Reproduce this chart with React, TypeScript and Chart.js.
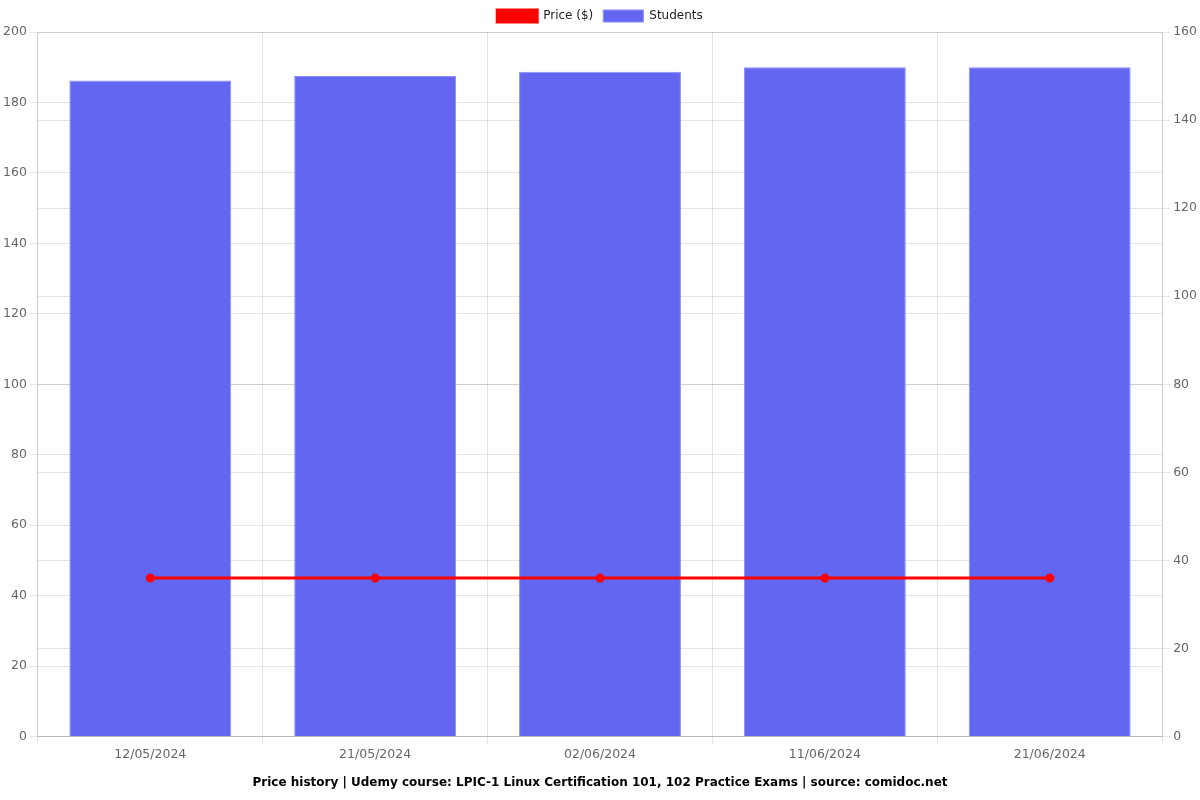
import React, { useEffect, useRef } from "react";
import { Chart, registerables } from "chart.js";

Chart.register(...registerables);

const labels = ["12/05/2024", "21/05/2024", "02/06/2024", "11/06/2024", "21/06/2024"];
const priceValues = [44.99, 44.99, 44.99, 44.99, 44.99];
const studentValues = [149, 150, 151, 152, 152];
const titleText = "Price history | Udemy course: LPIC-1 Linux Certification 101, 102 Practice Exams | source: comidoc.net";

export default function App() {
  const ref = useRef<HTMLCanvasElement>(null);
  useEffect(() => {
    Chart.defaults.font.family = "'DejaVu Sans', sans-serif";
    Chart.defaults.font.size = 12;
    Chart.defaults.color = "#666";
    const tickFont = { size: 12.5 };
    const chart = new Chart(ref.current!, {
      type: "bar",
      data: {
        labels,
        datasets: [
          {
            type: "line",
            label: "Price ($)",
            data: priceValues,
            borderColor: "#ff0000",
            backgroundColor: "#ff0000",
            borderWidth: 3,
            pointRadius: 3,
            yAxisID: "y",
            order: 0,
          },
          {
            type: "bar",
            label: "Students",
            data: studentValues,
            backgroundColor: "#6366f1",
            borderColor: "#8b8df5",
            borderWidth: 1,
            yAxisID: "y1",
            order: 1,
          },
        ],
      },
      options: {
        responsive: false,
        animation: false,
        plugins: {
          legend: { position: "top", labels: { color: "#222", padding: 10 } },
          title: {
            display: true,
            text: titleText,
            position: "bottom",
            color: "#000",
            font: { weight: "bold", size: 12 },
          },
        },
        scales: {
          x: { grid: { display: true }, ticks: { font: tickFont } },
          y: { position: "left", min: 0, max: 200, ticks: { stepSize: 20, font: tickFont } },
          y1: { position: "right", min: 0, max: 160, ticks: { stepSize: 20, font: tickFont } },
        },
      },
    });
    return () => chart.destroy();
  }, []);
  return <canvas ref={ref} width={1200} height={800} style={{ display: "block", position: "absolute", left: 0, top: 0 }} />;
}
